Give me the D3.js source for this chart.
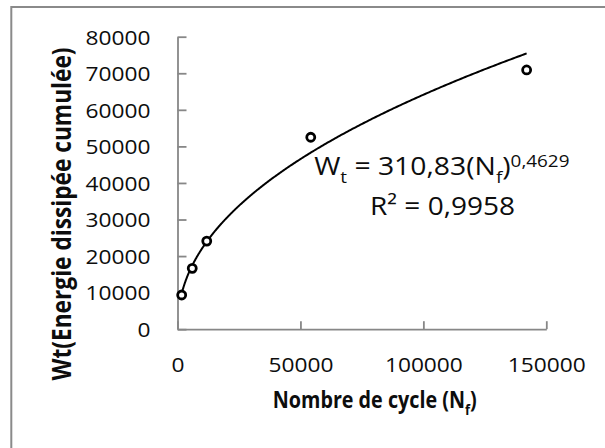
<!DOCTYPE html>
<html>
<head>
<meta charset="utf-8">
<script src="https://cdn.jsdelivr.net/npm/d3@7"></script>
<style>
  body { margin: 0; background: #fff; }
</style>
</head>
<body>
<svg id="chart" width="605" height="448"></svg>
<script>
// Fatigue test results: cumulated dissipated energy vs. number of cycles to failure
const cycles = [1700, 6000, 11900, 54200, 142000];
const energy = [9350, 16650, 24100, 52500, 70900];

// Power-law trendline W = a * N^b
const fitCoef = 310.83;
const fitExp = 0.4629;
const rSquared = 0.9958;

const xTicks = [0, 50000, 100000, 150000];
const yTicks = [0, 10000, 20000, 30000, 40000, 50000, 60000, 70000, 80000];

const xTitle = ["Nombre de cycle (N", "f", ")"];
const yTitle = "Wt(Energie dissipée cumulée)";

// French decimal comma
const fr = v => String(v).replace(".", ",");

const FONT = "'Open Sans', sans-serif";
const AXIS = "#878787";
const INK = "#0d0d0d";

const svg = d3.select("#chart");
svg.append("rect").attr("width", 605).attr("height", 448).attr("fill", "#fff");

// chart area frame
svg.append("rect")
  .attr("x", 11.3).attr("y", 7)
  .attr("width", 640).attr("height", 480)
  .attr("fill", "none").attr("stroke", "#8a8a8a").attr("stroke-width", 2);

const x = d3.scaleLinear().domain([0, 150000]).range([177.5, 546.3]);
const y = d3.scaleLinear().domain([0, 80000]).range([329.2, 36.7]);

const gy = svg.append("g")
  .attr("transform", `translate(${x(0)},0)`)
  .call(d3.axisLeft(y).tickValues(yTicks).tickSize(-9).tickSizeOuter(0)
    .tickPadding(27).tickFormat(d3.format("d")));

const gx = svg.append("g")
  .attr("transform", `translate(0,${y(0)})`)
  .call(d3.axisBottom(x).tickValues(xTicks).tickSize(-8).tickSizeOuter(0)
    .tickFormat(d3.format("d")));

[gy, gx].forEach(g => {
  g.select(".domain").attr("stroke", AXIS).attr("stroke-width", 1.8);
  g.selectAll(".tick line").attr("stroke", AXIS).attr("stroke-width", 1.8);
  g.selectAll(".tick text")
    .attr("font-family", FONT).attr("font-size", 20.5).attr("fill", INK);
});

// horizontal stretch of the tick labels, set from the widest label
const sampleW = gy.selectAll(".tick text").filter(d => d === 80000).node().getBBox().width;
const sTick = 65 / sampleW;

gy.selectAll(".tick text")
  .attr("x", 0).attr("dy", "0.357em")
  .attr("transform", `translate(-27,0) scale(${sTick},1)`);
gx.selectAll(".tick text")
  .attr("y", 0).attr("dy", 0)
  .attr("transform", `translate(0,42.5) scale(${sTick},1)`);

// trendline over the range of the data
const [n0, n1] = d3.extent(cycles);
const trend = d3.range(0, 301).map(i => {
  const n = n0 + (n1 - n0) * Math.pow(i / 300, 2);
  return [n, fitCoef * Math.pow(n, fitExp)];
});
svg.append("path")
  .datum(trend)
  .attr("fill", "none").attr("stroke", "#000").attr("stroke-width", 2)
  .attr("d", d3.line().x(d => x(d[0])).y(d => y(d[1])));

// measured points
svg.append("g").selectAll("circle")
  .data(cycles.map((c, i) => [c, energy[i]]))
  .join("circle")
  .attr("cx", d => x(d[0])).attr("cy", d => y(d[1]))
  .attr("r", 4)
  .attr("fill", "#fff").attr("stroke", "#000").attr("stroke-width", 2.8);

// fit a text group horizontally to a given width
function fitX(g, text, target, extra) {
  const w = text.node().getBBox().width;
  g.attr("transform", `${extra} scale(${target / w},1)`);
}

// trendline equation
const eqG = svg.append("g");
const eq = eqG.append("text")
  .attr("font-family", FONT).attr("font-size", 25.5).attr("fill", INK)
  .attr("text-anchor", "middle");
eq.append("tspan").text("W");
eq.append("tspan").attr("font-size", 17).attr("dy", 8.3).text("t");
eq.append("tspan").attr("dy", -8.3).text(` = ${fr(fitCoef)}(N`);
eq.append("tspan").attr("font-size", 17).attr("dy", 8.3).text("f");
eq.append("tspan").attr("dy", -8.3).text(")");
eq.append("tspan").attr("font-size", 17).attr("dy", -8.3).text(fr(fitExp));
fitX(eqG, eq, 255.5, "translate(441.8,175)");

const r2G = svg.append("g");
const r2 = r2G.append("text")
  .attr("font-family", FONT).attr("font-size", 25.5).attr("fill", INK)
  .attr("text-anchor", "middle")
  .text(`R² = ${fr(rSquared)}`);
fitX(r2G, r2, 145, "translate(442.5,215)");

// axis titles
const xtG = svg.append("g");
const xt = xtG.append("text")
  .attr("font-family", FONT).attr("font-size", 23).attr("font-weight", 700)
  .attr("fill", INK).attr("text-anchor", "middle");
xt.append("tspan").text(xTitle[0]);
xt.append("tspan").attr("font-size", 15).attr("dy", 7).text(xTitle[1]);
xt.append("tspan").attr("dy", -7).text(xTitle[2]);
fitX(xtG, xt, 204, "translate(374.7,408.3)");

const ytOuter = svg.append("g")
  .attr("transform", "translate(71,214) scale(1.2,1) rotate(-90)");
const ytG = ytOuter.append("g");
const yt = ytG.append("text")
  .attr("font-family", FONT).attr("font-size", 23).attr("font-weight", 700)
  .attr("fill", INK).attr("text-anchor", "middle")
  .text(yTitle);
fitX(ytG, yt, 333, "");
</script>
</body>
</html>
